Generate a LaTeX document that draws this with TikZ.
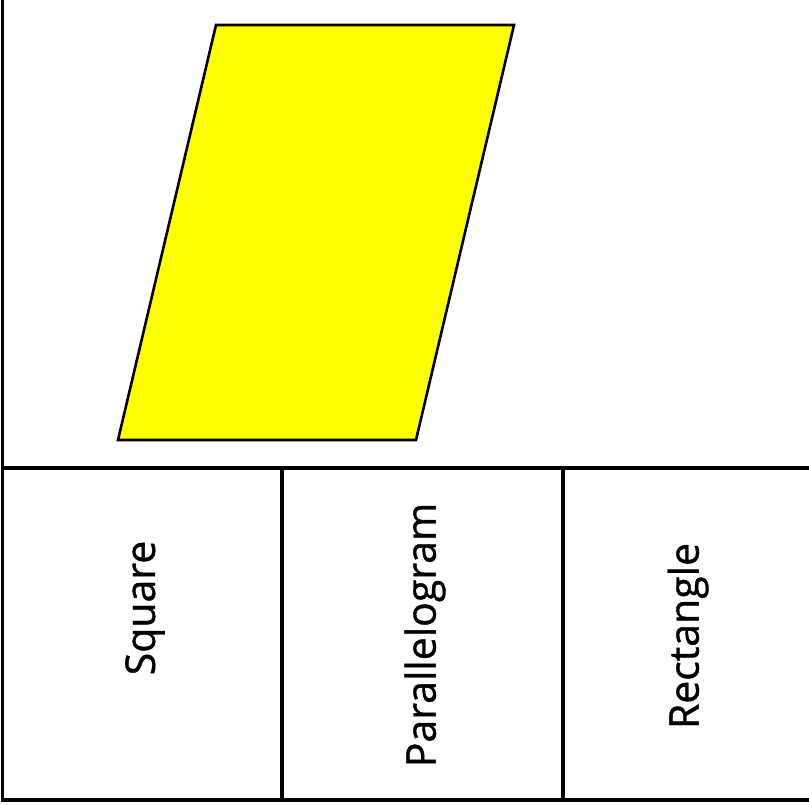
\documentclass[tikz,border=0pt]{standalone}
\usepackage{fontspec}
\setmainfont{Open Sans}
\newfontfamily\namefont{Open Sans}[FakeBold=1]
\definecolor{pgyellow}{RGB}{255,255,0}
\begin{document}
\begin{tikzpicture}[x=1pt, y=-1pt, every node/.style={font=\namefont\fontsize{41}{48}\selectfont},
  rule/.style={line width=3.2pt, black},
  pgram/.style={draw, line width=2.6pt, fill=pgyellow, line join=miter},
  cellname/.style={rotate=90, inner sep=0pt}]
  \useasboundingbox (0,0) rectangle (809,805);
  % Table lines
  \draw[rule] (2.3,0) -- (2.3,800) -- (809,800);
  \draw[rule] (2.3,468) -- (809,468);
  \draw[rule] (282,468) -- (282,800);
  \draw[rule] (563,468) -- (563,800);
  % Shape
  \draw[pgram] (216,25) -- (514,25) -- (416,440) -- (118,440) -- cycle;
  % Names
  \node[cellname] (sq) at (145,608) {Square};
  \node[cellname] (pa) at (425,635) {Parallelogram};
  \node[cellname] (re) at (688,636) {Rectangle};
\end{tikzpicture}
\end{document}
